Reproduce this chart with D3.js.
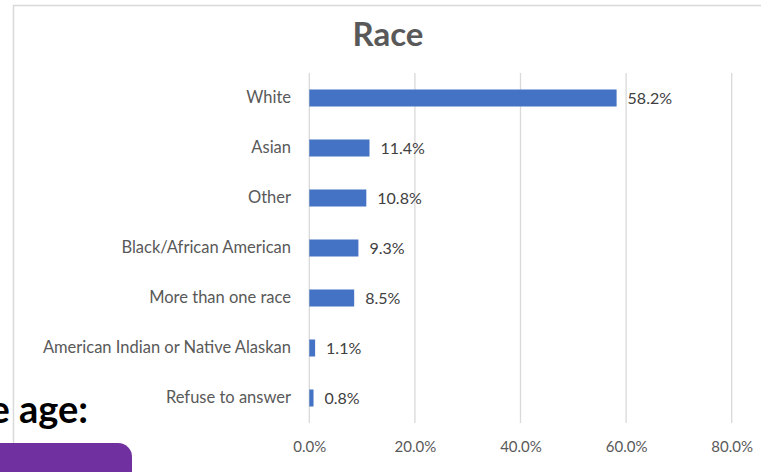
<!DOCTYPE html>
<html>
<head>
<meta charset="utf-8">
<script src="https://cdn.jsdelivr.net/npm/d3@7"></script>
<style>
  html, body { margin: 0; padding: 0; background: #fff; }
  svg { display: block; }
  text { font-family: Lato, "Open Sans", sans-serif; }
</style>
</head>
<body>
<svg id="chart" width="761" height="472"></svg>
<script>
// Survey responses by race (percent of respondents)
const categories = [
  "White",
  "Asian",
  "Other",
  "Black/African American",
  "More than one race",
  "American Indian or Native Alaskan",
  "Refuse to answer"
];
const values = [58.2, 11.4, 10.8, 9.3, 8.5, 1.1, 0.8];
const tickValues = [0, 20, 40, 60, 80];
const chartTitle = "Race";

const svg = d3.select("#chart");
const W = 761, H = 472;

// Chart frame (top and left border of the chart area)
svg.append("path")
  .attr("d", `M13.5,${H - 29} V5.5 H${W}`)
  .attr("fill", "none")
  .attr("stroke", "#d9d9d9")
  .attr("stroke-width", 1.5);

const x = d3.scaleLinear().domain([0, 80]).range([309.3, 731.7]);
const y = d3.scaleBand().domain(categories).range([73, 423]).paddingInner(0.66).paddingOuter(0.33);

// Vertical gridlines
svg.append("g")
  .selectAll("line")
  .data(tickValues)
  .join("line")
  .attr("x1", d => x(d)).attr("x2", d => x(d))
  .attr("y1", 73).attr("y2", 423)
  .attr("stroke", "#d9d9d9")
  .attr("stroke-width", 1.3);

// X axis labels
const xAxis = d3.axisBottom(x)
  .tickValues(tickValues)
  .tickFormat(d => d3.format(".1f")(d) + "%")
  .tickSize(0)
  .tickPadding(0);
const gx = svg.append("g")
  .attr("transform", "translate(0,441)")
  .call(xAxis);
gx.select(".domain").remove();
gx.selectAll("text")
  .attr("fill", "#595959")
  .style("font-size", "15px")
  .style("font-family", "Lato, 'Open Sans', sans-serif");

// Category labels
const yAxis = d3.axisLeft(y).tickSize(0).tickPadding(0);
const gy = svg.append("g")
  .attr("transform", "translate(291,0)")
  .call(yAxis);
gy.select(".domain").remove();
gy.selectAll("text")
  .attr("fill", "#595959")
  .style("font-size", "16.5px")
  .style("font-family", "Lato, 'Open Sans', sans-serif");

// Bars
svg.append("g")
  .selectAll("rect")
  .data(values)
  .join("rect")
  .attr("x", x(0))
  .attr("y", (d, i) => y(categories[i]))
  .attr("width", d => x(d) - x(0))
  .attr("height", y.bandwidth())
  .attr("fill", "#4472c4");

// Value labels
svg.append("g")
  .selectAll("text")
  .data(values)
  .join("text")
  .attr("x", d => x(d) + 11)
  .attr("y", (d, i) => y(categories[i]) + y.bandwidth() / 2)
  .attr("dy", "0.35em")
  .attr("fill", "#404040")
  .style("font-size", "16px")
  .text(d => d.toFixed(1) + "%");

// Title
svg.append("text")
  .attr("x", 388)
  .attr("y", 46)
  .attr("text-anchor", "middle")
  .attr("fill", "#595959")
  .style("font-size", "33px")
  .style("font-weight", "bold")
  .text(chartTitle);

// Slide elements around the chart
svg.append("text")
  .attr("x", 88)
  .attr("y", 423)
  .attr("text-anchor", "end")
  .attr("fill", "#000")
  .style("font-size", "38px")
  .style("font-weight", "bold")
  .text("e age:");

svg.append("rect")
  .attr("x", -30)
  .attr("y", 443)
  .attr("width", 162)
  .attr("height", 60)
  .attr("rx", 14)
  .attr("fill", "#7030a0");
</script>
</body>
</html>
